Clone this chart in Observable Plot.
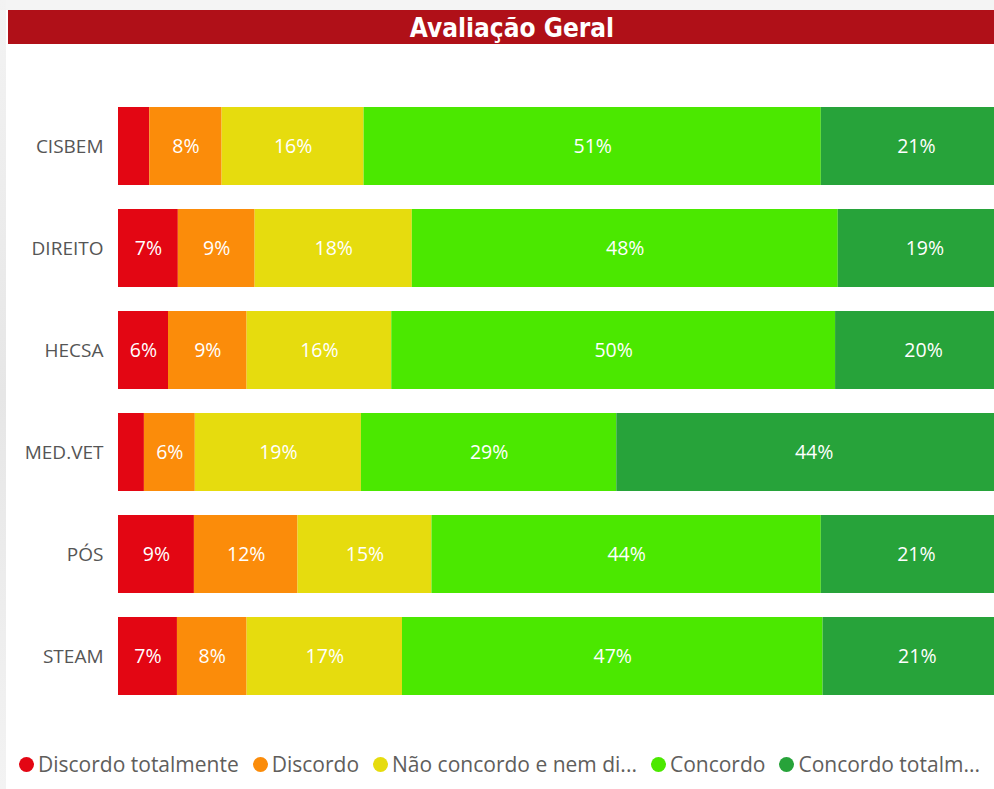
<!DOCTYPE html>
<html>
<head>
<meta charset="utf-8">
<script src="https://cdn.jsdelivr.net/npm/d3@7"></script>
<script src="https://cdn.jsdelivr.net/npm/@observablehq/plot@0.6"></script>
<style>
  html, body { margin: 0; padding: 0; width: 994px; height: 789px; overflow: hidden; background: #fff; }
  #strip { position: absolute; left: 0; top: 0; width: 6px; height: 789px; background: linear-gradient(#f3f3f3, #e6e6e6 50%, #f3f3f3); }
  #topstrip { position: absolute; left: 0; top: 0; width: 994px; height: 10px; background: #f4f4f4; }
  #title { position: absolute; left: 8px; top: 10px; width: 1008px; height: 34px; background: #b01018;
           color: #fff; font-family: "DejaVu Sans Condensed", "DejaVu Sans", sans-serif; font-weight: bold;
           font-size: 26px; line-height: 36px; text-align: center; }
  #chart { position: absolute; left: 0; top: 0; width: 1011px; }
  #chart svg { max-width: none !important; width: 1011px; height: 720px; }
  #legend { position: absolute; left: 19px; top: 750px; display: flex; align-items: center; white-space: nowrap;
            font-family: "Open Sans", "Noto Sans", sans-serif; font-size: 21px; color: #605e5c; }
  .item { display: flex; align-items: center; margin-right: 14px; }
  .dot { width: 15px; height: 15px; border-radius: 50%; margin-right: 4px; }
</style>
</head>
<body>
<div id="topstrip"></div>
<div id="strip"></div>
<div id="chart"></div>
<div id="title">Avaliação Geral</div>
<div id="legend"></div>
<script>
const categories = ["CISBEM", "DIREITO", "HECSA", "MED.VET", "PÓS", "STEAM"];
const series = ["Discordo totalmente", "Discordo", "Não concordo e nem discordo", "Concordo", "Concordo totalmente"];
const legendLabels = ["Discordo totalmente", "Discordo", "Não concordo e nem di...", "Concordo", "Concordo totalm..."];
const colors = ["#e30613", "#fb8c0a", "#e6dc0e", "#4be800", "#27a33a"];
// percentages per category, in series order
const discordoTotalmente = [3.5, 6.7, 5.6, 2.9, 8.5, 6.6];
const discordo          = [8.1, 8.6, 8.8, 5.7, 11.6, 7.8];
const neutro            = [15.9, 17.6, 16.2, 18.6, 15.0, 17.4];
const concordo          = [51.2, 47.7, 49.7, 28.6, 43.6, 47.1];
const concordoTotal     = [21.3, 19.4, 19.7, 44.2, 21.3, 21.1];

const seriesValues = [discordoTotalmente, discordo, neutro, concordo, concordoTotal];
const data = [];
categories.forEach((c, i) => {
  series.forEach((s, j) => data.push({category: c, series: s, value: seriesValues[j][i]}));
});

const chart = Plot.plot({
  width: 1011,
  height: 720,
  marginLeft: 118,
  marginRight: 0,
  marginTop: 83,
  marginBottom: 1,
  style: {fontFamily: "'Open Sans', 'Noto Sans', sans-serif", background: "transparent", maxWidth: "none"},
  x: {domain: [0, 100], axis: null},
  y: {domain: categories, padding: 0.235, label: null, axis: null},
  color: {domain: series, range: colors},
  marks: [
    Plot.barX(data, Plot.stackX({x: "value", y: "category", fill: "series", order: series})),
    Plot.text(data, Plot.stackX({
      x: "value", y: "category", z: "series", order: series,
      text: d => d.value >= 4.5 ? Math.round(d.value) + "%" : "",
      fill: "white", fontSize: 19.5
    })),
    Plot.axisY({tickSize: 0, tickPadding: 15, fontSize: 19, color: "#555", label: null})
  ]
});
document.getElementById("chart").appendChild(chart);

const legend = document.getElementById("legend");
legendLabels.forEach((l, i) => {
  const it = document.createElement("div");
  it.className = "item";
  const dot = document.createElement("span");
  dot.className = "dot";
  dot.style.background = colors[i];
  const t = document.createElement("span");
  t.textContent = l;
  it.appendChild(dot); it.appendChild(t);
  legend.appendChild(it);
});
</script>
</body>
</html>
